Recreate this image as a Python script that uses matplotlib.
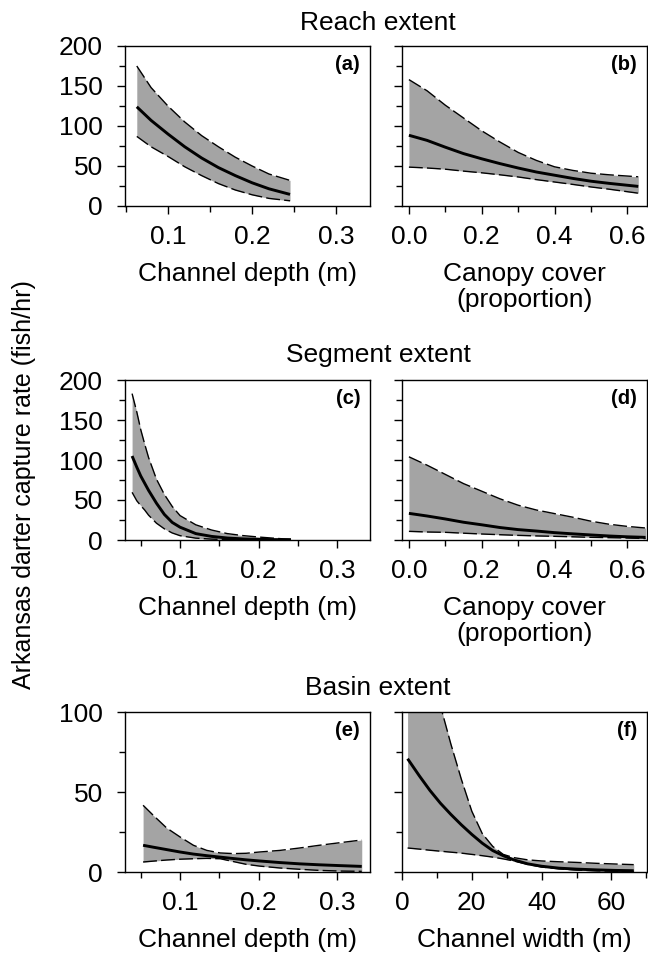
"""Arkansas darter capture rate vs habitat covariates at three spatial extents."""

import numpy as np
import matplotlib
matplotlib.use('Agg')
import matplotlib.pyplot as plt
from matplotlib.ticker import MultipleLocator

plt.rcParams['font.family'] = ['Liberation Sans', 'DejaVu Sans']

# (a) reach extent, channel depth
a_x = [0.063, 0.08, 0.10, 0.12, 0.14, 0.16, 0.18, 0.20, 0.22, 0.245]
a_mid = [124, 107, 90, 74, 60, 48, 38, 29, 21.5, 14.5]
a_hi = [175, 148, 125, 105, 88, 74, 61, 50, 40, 32]
a_lo = [87, 74, 62, 49, 38, 28, 20, 14, 9.5, 6.5]

# (b) reach extent, canopy cover
b_x = [0, 0.05, 0.1, 0.15, 0.2, 0.25, 0.3, 0.35, 0.4, 0.45, 0.5, 0.55, 0.63]
b_mid = [88.4, 82, 73.5, 65.5, 59, 53, 47.5, 42.5, 38.5, 34.5, 31, 28.3, 24.5]
b_hi = [158, 144, 126, 110, 94, 80, 67, 57, 49, 44.5, 41, 39, 36.5]
b_lo = [48.6, 47.5, 46, 43.6, 41.5, 39, 36.3, 33, 30, 27, 23.8, 21, 16]

# (c) segment extent, channel depth
c_x = [0.039, 0.045, 0.05, 0.055, 0.06, 0.07, 0.08, 0.09, 0.10, 0.12,
       0.14, 0.16, 0.18, 0.20, 0.22, 0.241]
c_mid = [105, 91, 80, 71, 62, 46, 32, 22, 16, 8, 4.5, 2.5, 1.4, 0.8, 0.5, 0.4]
c_hi = [183, 160, 138, 120, 103, 76, 57, 42, 30.5, 19, 12.5, 8, 5.5, 3.7,
        2.2, 0.8]
c_lo = [59.6, 49, 43, 37.5, 31, 21, 14, 8.8, 5.4, 2.3, 1.1, 0.6, 0.3, 0.2,
        0.1, 0.1]

# (d) segment extent, canopy cover
d_x = [0, 0.05, 0.1, 0.15, 0.2, 0.25, 0.3, 0.35, 0.4, 0.45, 0.5, 0.55, 0.6,
       0.65]
d_mid = [33.3, 30, 26.3, 22.2, 19, 15.6, 13, 11.2, 9.2, 7.7, 6.3, 5, 4, 3.3]
d_hi = [104, 93.5, 82, 70.5, 61, 51.5, 43.5, 37.5, 33, 28.5, 23.5, 19.7, 17,
        15]
d_lo = [10.8, 10, 9.6, 8.5, 7.5, 6.6, 5.8, 5.1, 4.6, 4, 3.3, 2.9, 2.5, 1.8]

# (e) basin extent, channel depth
e_x = [0.053, 0.066, 0.083, 0.10, 0.117, 0.134, 0.151, 0.168, 0.184, 0.201,
       0.227, 0.252, 0.277, 0.303, 0.331]
e_mid = [16.7, 15.5, 14, 12.5, 11.2, 10.2, 9.3, 8.4, 7.6, 6.9, 5.9, 5.1, 4.5,
         4, 3.5]
e_hi = [41.7, 35.4, 27.5, 21.9, 16.7, 13.5, 11.9, 11.5, 11.7, 12.5, 13.5, 15,
        16.7, 18.3, 20]
e_lo = [6.25, 6.8, 7.5, 8, 8.3, 8.5, 8.3, 6.5, 4.8, 3.7, 2.5, 1.7, 1.0, 0.6,
        0.4]

# (f) basin extent, channel width
f_x = [1.6, 5, 8, 11, 14, 17, 20, 23, 26, 29, 32, 36, 40, 45, 50, 56, 61, 66.4]
f_mid = [70.8, 60, 51, 43, 36, 29.5, 23.5, 18, 13.4, 10.2, 7.6, 5.1, 3.6, 2.4,
         1.8, 1.3, 1.0, 0.8]
f_hi = [275, 195, 142, 104, 80, 58, 38, 24, 16, 11, 9, 7.6, 6.9, 6.4, 6,
        5.4, 5, 4.6]
f_lo = [15, 14.3, 13.6, 13, 12.4, 11.8, 11, 10.2, 9.3, 8.2, 6.9, 4.8, 3.1, 2.0,
        1.2, 0.7, 0.5, 0.4]

panels = [
    ('(a)', a_x, a_lo, a_mid, a_hi),
    ('(b)', b_x, b_lo, b_mid, b_hi),
    ('(c)', c_x, c_lo, c_mid, c_hi),
    ('(d)', d_x, d_lo, d_mid, d_hi),
    ('(e)', e_x, e_lo, e_mid, e_hi),
    ('(f)', f_x, f_lo, f_mid, f_hi),
]

depth_label = 'Channel depth (m)'
canopy_label = 'Canopy cover\n(proportion)'
width_label = 'Channel width (m)'
xlabels = [depth_label, canopy_label, depth_label, canopy_label,
           depth_label, width_label]
row_titles = ['Reach extent', 'Segment extent', 'Basin extent']
ylabel = 'Arkansas darter capture rate (fish/hr)'

W, H = 648, 957
fig = plt.figure(figsize=(W / 100, H / 100), dpi=100)

col_left = [125, 402]
col_width = 245
row_top = [46, 380, 712]
row_height = 160

FILL = '#a4a4a4'
FS = 19

for i, (tag, x, lo, mid, hi) in enumerate(panels):
    row, col = divmod(i, 2)
    rect = [col_left[col] / W, 1 - (row_top[row] + row_height) / H,
            col_width / W, row_height / H]
    ax = fig.add_axes(rect)

    x = np.asarray(x)
    ax.fill_between(x, lo, hi, color=FILL, lw=0)
    ax.plot(x, hi, color='black', lw=1.0, dashes=(10, 3))
    ax.plot(x, lo, color='black', lw=1.0, dashes=(10, 3))
    ax.plot(x, mid, color='black', lw=2.1, solid_capstyle='butt')

    ax.set_ylim(0, 200 if row < 2 else 100)
    ax.yaxis.set_major_locator(MultipleLocator(50))
    ax.yaxis.set_minor_locator(MultipleLocator(25))

    if col == 0:
        if row == 0:
            ax.set_xlim(0.049, 0.34)
        else:
            ax.set_xlim(0.030, 0.3415)
        ax.xaxis.set_major_locator(MultipleLocator(0.1))
        ax.xaxis.set_minor_locator(MultipleLocator(0.05))
        ax.xaxis.set_major_formatter(lambda v, p: f'{v:.1f}')
    elif row < 2:
        ax.set_xlim(-0.019, 0.654)
        ax.xaxis.set_major_locator(MultipleLocator(0.2))
        ax.xaxis.set_minor_locator(MultipleLocator(0.1))
        ax.xaxis.set_major_formatter(lambda v, p: f'{v:.1f}')
    else:
        ax.set_xlim(0, 70.2)
        ax.xaxis.set_major_locator(MultipleLocator(20))
        ax.xaxis.set_minor_locator(MultipleLocator(10))

    ax.tick_params(which='major', direction='out', length=6, width=1,
                   labelsize=FS)
    ax.tick_params(which='minor', direction='out', length=4, width=1)
    ax.tick_params(axis='x', which='major', pad=8)
    ax.tick_params(axis='y', which='major', pad=10)
    if col == 1:
        ax.tick_params(axis='y', labelleft=False)
    for sp in ax.spines.values():
        sp.set_linewidth(1.0)

    ax.set_xlabel(xlabels[i], fontsize=FS, labelpad=9, linespacing=1.1)
    ax.text(0.96, 0.945, tag, transform=ax.transAxes, ha='right', va='top',
            fontsize=14.5, fontweight='bold')

for title, y in zip(row_titles, [23, 355, 688]):
    fig.text(378 / W, 1 - y / H, title, ha='center', va='center', fontsize=19)

fig.text(24 / W, 1 - 485 / H, ylabel, rotation=90, ha='center', va='center',
         fontsize=18)

fig.savefig('out.png', dpi=100)
